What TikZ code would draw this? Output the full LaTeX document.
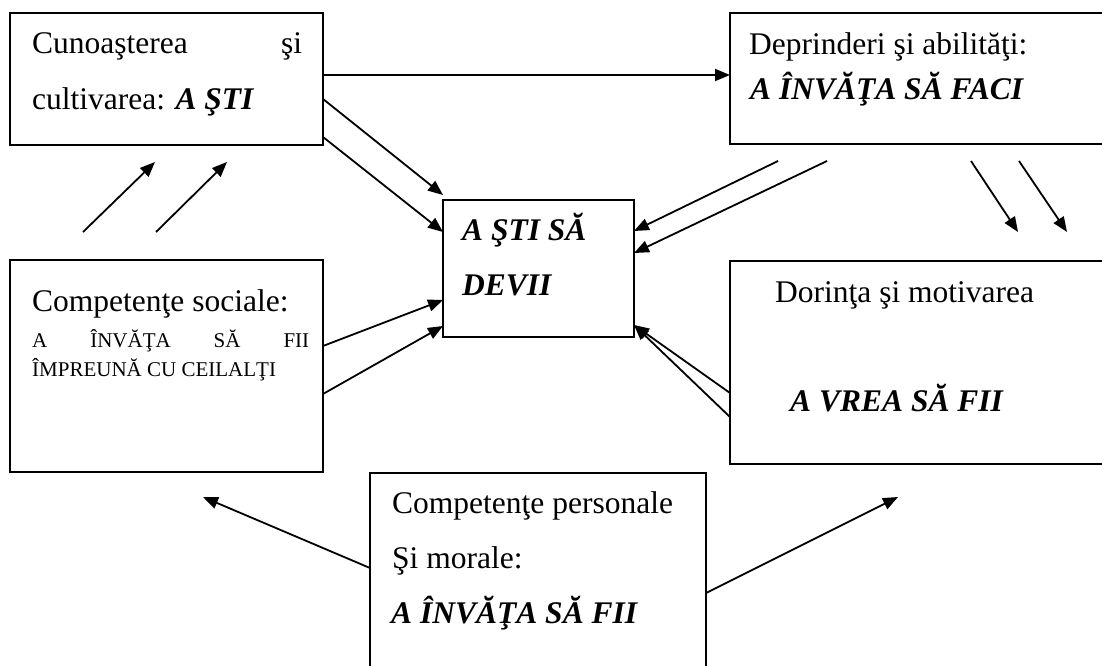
\documentclass[tikz,border=0pt]{standalone}
\usepackage{fontspec}
\setmainfont{Liberation Serif}
\usetikzlibrary{arrows.meta}
\begin{document}
\begin{tikzpicture}[x=1pt,y=-1pt,
 box/.style={draw, line width=1.6pt, rectangle, inner sep=0pt, outer sep=0pt, anchor=north west},
 txt/.style={anchor=base west, inner sep=0pt, font=\fontsize{31.5}{38}\selectfont},
 smalltxt/.style={anchor=base west, inner sep=0pt, font=\fontsize{21}{25}\selectfont},
 arr/.style={line width=1.8pt, -{Triangle[length=15pt,width=12pt]}}]
\useasboundingbox (0,0) rectangle (1102,666);
% boxes
\node[box, minimum width=313pt, minimum height=132pt] (tl) at (10,13) {};
\node[box, minimum width=380pt, minimum height=131pt] (tr) at (730,13) {};
\node[box, minimum width=191pt, minimum height=137pt] (c) at (443,200) {};
\node[box, minimum width=313pt, minimum height=212pt] (ml) at (10,260) {};
\node[box, minimum width=380pt, minimum height=203pt] (mr) at (730,261) {};
\node[box, minimum width=336pt, minimum height=200pt] (bt) at (370,473) {};
% texts
\node[txt] (t1a) at (32,54) {\makebox[270pt][l]{Cunoaşterea\hfill şi}};
\node[txt] (t1b) at (32,110) {cultivarea: \textbf{\textit{A ŞTI}}};
\node[txt] (t2a) at (749,55) {Deprinderi şi abilităţi:};
\node[txt] (t2b) at (750,100) {\textbf{\textit{A ÎNVĂŢA SĂ FACI}}};
\node[txt] (t3a) at (462,240) {\textbf{\textit{A ŞTI SĂ}}};
\node[txt] (t3b) at (462,295) {\textbf{\textit{DEVII}}};
\node[txt] (t4a) at (32,311) {Competenţe sociale:};
\node[smalltxt] (t4b) at (32,347) {\makebox[277pt][s]{A ÎNVĂŢA SĂ FII}};
\node[smalltxt] (t4c) at (32,376) {ÎMPREUNĂ CU CEILALŢI};
\node[txt] (t5a) at (775,302) {Dorinţa şi motivarea};
\node[txt] (t5b) at (790,411) {\textbf{\textit{A VREA SĂ FII}}};
\node[txt] (t6a) at (392,513) {Competenţe personale};
\node[txt] (t6b) at (392,568) {Şi morale:};
\node[txt] (t6c) at (391,623) {\textbf{\textit{A ÎNVĂŢA SĂ FII}}};
% free arrow ends
\coordinate (u1s) at (83,232);  \coordinate (u1e) at (155,162);
\coordinate (u2s) at (156,232); \coordinate (u2e) at (227,162);
\coordinate (r1) at (778,161);  \coordinate (r2) at (827,161);
\coordinate (d1s) at (971,161); \coordinate (d1e) at (1018,232);
\coordinate (d2s) at (1019,161); \coordinate (d2e) at (1067,232);
\coordinate (bl) at (203,497);  \coordinate (br) at (898,497);
% arrows
\draw[arr] (tl.east |- 0,75) -- (tr.west |- 0,75);
\draw[arr] (tl.east |- 0,99) -- (c.west |- 0,195);
\draw[arr] (tl.east |- 0,137) -- (c.west |- 0,232);
\draw[arr] (u1s) -- (u1e);
\draw[arr] (u2s) -- (u2e);
\draw[arr] (ml.east |- 0,346) -- (c.west |- 0,300);
\draw[arr] (ml.east |- 0,394) -- (c.west |- 0,326);
\draw[arr] (r1) -- (c.east |- 0,231);
\draw[arr] (r2) -- (c.east |- 0,253);
\draw[arr] (d1s) -- (d1e);
\draw[arr] (d2s) -- (d2e);
\draw[arr] (mr.west |- 0,393) -- (c.east |- 0,325);
\draw[arr] (mr.west |- 0,417) -- (c.east |- 0,325);
\draw[arr] (bt.west |- 0,568) -- (bl);
\draw[arr] (bt.east |- 0,593) -- (br);
\end{tikzpicture}
\end{document}
